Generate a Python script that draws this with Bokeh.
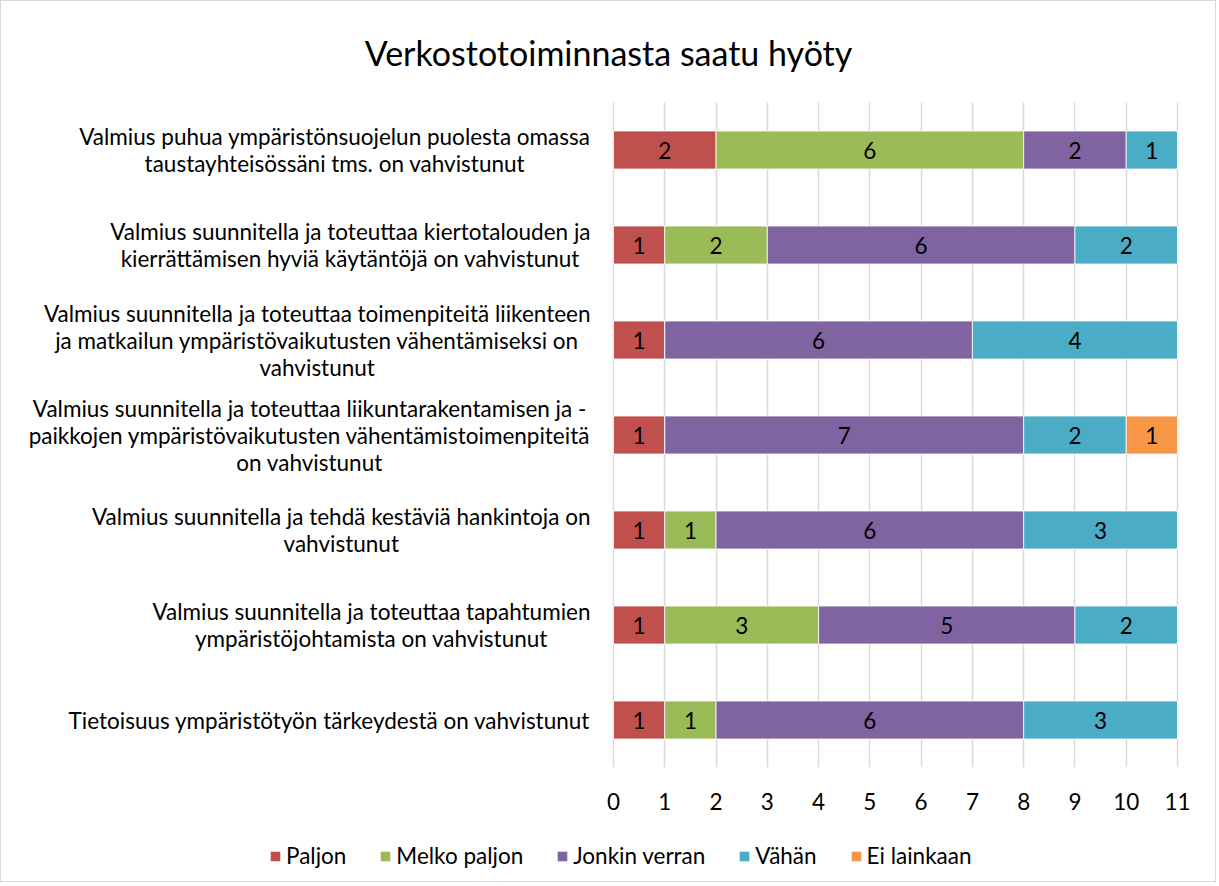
import numpy as np
from bokeh.plotting import figure
from bokeh.layouts import column
from bokeh.models import ColumnDataSource, Range1d, FixedTicker, Legend, LegendItem
from bokeh.core.properties import value
from bokeh.embed import file_html
from bokeh.resources import INLINE

categories = [
    "Valmius puhua ympäristönsuojelun puolesta omassa\ntaustayhteisössäni tms. on vahvistunut",
    "Valmius suunnitella ja toteuttaa kiertotalouden ja\nkierrättämisen hyviä käytäntöjä on vahvistunut",
    "Valmius suunnitella ja toteuttaa toimenpiteitä liikenteen\nja matkailun ympäristövaikutusten vähentämiseksi on\nvahvistunut",
    "Valmius suunnitella ja toteuttaa liikuntarakentamisen ja -\npaikkojen ympäristövaikutusten vähentämistoimenpiteitä\non vahvistunut",
    "Valmius suunnitella ja tehdä kestäviä hankintoja on\nvahvistunut",
    "Valmius suunnitella ja toteuttaa tapahtumien\nympäristöjohtamista on vahvistunut",
    "Tietoisuus ympäristötyön tärkeydestä on vahvistunut",
]
series_names = ["Paljon", "Melko paljon", "Jonkin verran", "Vähän", "Ei lainkaan"]
paljon = [2, 1, 1, 1, 1, 1, 1]
melko_paljon = [6, 2, 0, 0, 1, 3, 1]
jonkin_verran = [2, 6, 6, 7, 6, 5, 6]
vahan = [1, 2, 4, 2, 3, 2, 3]
ei_lainkaan = [0, 0, 0, 1, 0, 0, 0]
colors = ["#C0504D", "#9BBB59", "#8064A2", "#4BACC6", "#F79646"]
x_ticks = list(range(0, 12))
title_text = "Verkostotoiminnasta saatu hyöty"

FONT = "Lato"
FS = "22.5px"
keys = ["s0", "s1", "s2", "s3", "s4"]
vals = [paljon, melko_paljon, jonkin_verran, vahan, ei_lainkaan]
data = {"cat": categories}
for k, v in zip(keys, vals):
    data[k] = v
source = ColumnDataSource(data)

# layout (pixels): the frame spans the full canvas width; the value axis 0..max
# occupies pixels AX0..AX1 of it, the category labels sit to its left.
W, FH = 1214, 665
AX0, AX1 = 612, 1176
XMAX = x_ticks[-1]
ppu = (AX1 - AX0) / XMAX
x_range = Range1d(-AX0 / ppu, XMAX + (W - AX1) / ppu)

p = figure(
    frame_width=W, frame_height=FH,
    y_range=list(reversed(categories)),
    x_range=x_range,
    output_backend="svg", toolbar_location=None,
    min_border_left=0, min_border_right=0, min_border_top=101, min_border_bottom=60,
)
p.outline_line_color = None
p.background_fill_color = "white"
p.border_fill_color = "white"

p.title.text = title_text
p.title.align = "center"
p.title.vertical_align = "top"
p.title.text_font = FONT
p.title.text_font_size = "34px"
p.title.text_font_style = "normal"
p.title.text_color = "#000000"
p.title.standoff = 56

renderers = p.hbar_stack(keys, y="cat", height=0.4, color=colors, source=source,
                         line_color="white", line_width=0.8)

# value labels
arr = np.array(vals, dtype=float)
cum = np.cumsum(arr, axis=0)
lx, ly, lt = [], [], []
for i in range(arr.shape[0]):
    for j, c in enumerate(categories):
        if arr[i, j] > 0:
            lx.append(cum[i, j] - arr[i, j] / 2)
            ly.append(c)
            lt.append(str(int(arr[i, j])))
p.text(x="x", y="y", text="t", source=ColumnDataSource(dict(x=lx, y=ly, t=lt)),
       text_align="center", text_baseline="middle", text_font=value(FONT),
       text_font_size=FS, text_color="#000000")

# category labels: right-anchored text blocks with centred lines, left of x = 0
p.text(x="x", y="y", text="t",
       source=ColumnDataSource(dict(x=[x_ticks[0]] * len(categories), y=categories, t=categories)),
       x_offset=-23, anchor="center_right", text_align="center", text_baseline="middle",
       text_font=value(FONT), text_font_size=FS, text_line_height=1.0, text_color="#000000")

# axes
p.xaxis.ticker = FixedTicker(ticks=x_ticks)
p.xaxis.axis_line_color = None
p.xaxis.major_tick_line_color = None
p.xaxis.major_tick_out = 0
p.xaxis.major_tick_in = 0
p.xaxis.minor_tick_line_color = None
p.xaxis.major_label_text_font = FONT
p.xaxis.major_label_text_font_size = FS
p.xaxis.major_label_text_color = "#000000"
p.xaxis.major_label_standoff = 25

p.yaxis.visible = False

p.xgrid.grid_line_color = "#d9d9d9"
p.xgrid.grid_line_width = 1.5
p.ygrid.grid_line_color = None

# legend strip underneath (zero-size swatch renderers in the series colours)
pl = figure(frame_width=W, frame_height=54, x_range=Range1d(0, 1), y_range=Range1d(0, 1),
            output_backend="svg", toolbar_location=None,
            min_border_left=0, min_border_right=0, min_border_top=0, min_border_bottom=0)
pl.axis.visible = False
pl.grid.visible = False
pl.outline_line_color = None
pl.background_fill_color = "white"
pl.border_fill_color = "white"
items = []
for nm, c in zip(series_names, colors):
    r = pl.hbar(y=[0], left=[0], right=[0], height=0, fill_color=c, line_color=c, line_alpha=0)
    items.append(LegendItem(label=nm, renderers=[r]))
legend = Legend(items=items, orientation="horizontal", location=(268, 12),
                label_text_font=FONT, label_text_font_size=FS, label_text_color="#000000",
                glyph_width=12, glyph_height=12, label_standoff=5, spacing=33,
                border_line_color=None, background_fill_alpha=0, margin=0, padding=4)
pl.add_layout(legend, "center")

layout = column(p, pl, spacing=0, styles={"border": "1px solid #d9d9d9"})

open("out.html", "w").write(file_html(layout, INLINE))
